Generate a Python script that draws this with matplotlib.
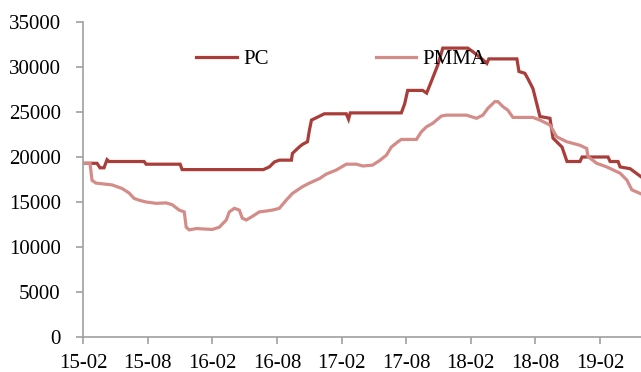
import matplotlib.pyplot as plt

plt.rcParams['font.family'] = ['Liberation Serif', 'DejaVu Serif']

# x = months since 2015-02
tick_labels = ['15-02', '15-08', '16-02', '16-08', '17-02', '17-08', '18-02', '18-08', '19-02']
tick_pos = [0, 6, 12, 18, 24, 30, 36, 42, 48]

pc_x = [0.0, 1.3, 1.58, 1.95, 2.23, 2.42, 5.67, 5.86, 9.02, 9.2, 16.74, 17.3, 17.77,
        18.23, 19.35, 19.44, 20.06, 20.37, 20.84, 21.02, 21.21, 21.81, 22.4, 24.44,
        24.65, 24.81, 29.55, 29.86, 30.14, 31.53, 31.9, 32.37, 32.93, 33.4, 35.72,
        36.19, 37.12, 37.49, 37.67, 40.28, 40.47, 41.02, 41.3, 41.77, 42.42, 43.35,
        43.63, 44.47, 44.93, 46.14, 46.33, 48.74, 48.93, 49.67, 49.86, 50.79, 51.81]
pc_y = [19300, 19300, 18800, 18800, 19700, 19500, 19500, 19200, 19200, 18600, 18600,
        18900, 19450, 19650, 19650, 20400, 21100, 21400, 21700, 23000, 24100, 24450,
        24800, 24800, 24200, 24900, 24900, 25900, 27400, 27400, 27100, 28500, 30200,
        32100, 32100, 31700, 30800, 30400, 30900, 30900, 29500, 29300, 28700, 27600,
        24500, 24300, 22100, 21100, 19500, 19500, 20000, 20000, 19500, 19500, 18900,
        18700, 17800]

pmma_x = [0.0, 0.65, 0.84, 1.21, 2.7, 3.63, 4.28, 4.74, 5.21, 5.86, 6.79, 7.72, 8.28,
          8.93, 9.4, 9.58, 9.86, 10.51, 12.0, 12.65, 13.3, 13.58, 14.05, 14.51, 14.79,
          15.16, 15.72, 16.37, 17.02, 17.58, 18.23, 18.86, 19.44, 20.37, 21.02, 21.95,
          22.58, 23.51, 24.44, 25.37, 25.98, 26.88, 27.53, 28.16, 28.62, 29.24, 29.55,
          30.95, 31.41, 31.88, 32.47, 33.27, 33.74, 35.6, 36.53, 37.12, 37.58, 38.23,
          38.51, 38.98, 39.44, 39.91, 41.77, 42.42, 43.35, 43.97, 44.9, 46.14, 46.76,
          46.88, 47.69, 48.62, 49.86, 50.48, 50.95, 51.81]
pmma_y = [19300, 19300, 17400, 17100, 16900, 16500, 16000, 15400, 15200, 15000, 14850,
          14900, 14700, 14100, 13900, 12200, 11900, 12050, 11950, 12200, 13000, 13900,
          14300, 14100, 13200, 13000, 13400, 13900, 14000, 14100, 14300, 15200, 15950,
          16700, 17100, 17600, 18100, 18550, 19200, 19200, 19000, 19100, 19600, 20200,
          21100, 21700, 21950, 21950, 22800, 23350, 23750, 24550, 24650, 24650, 24300,
          24650, 25400, 26150, 26150, 25600, 25200, 24400, 24400, 24100, 23550, 22250,
          21700, 21300, 20950, 20050, 19300, 18900, 18200, 17450, 16350, 15900]

fig = plt.figure(figsize=(6.41, 3.72), dpi=100)
ax = fig.add_axes([83 / 641, 35 / 372, 1 - 83 / 641, 315 / 372])

ax.plot(pc_x, pc_y, color='#a83d39', lw=2.3, label='PC', solid_joinstyle='miter')
ax.plot(pmma_x, pmma_y, color='#d48c89', lw=2.3, label='PMMA', solid_joinstyle='miter')

ax.set_xlim(0, 51.8)
ax.set_ylim(0, 35000)
ax.set_yticks(range(0, 35001, 5000))
ax.set_xticks(tick_pos)
ax.set_xticklabels(tick_labels)

for s in ['top', 'right']:
    ax.spines[s].set_visible(False)
for s in ['left', 'bottom']:
    ax.spines[s].set_color('#a0a0a0')
    ax.spines[s].set_linewidth(1.2)
ax.tick_params(colors='#a0a0a0', labelcolor='black', labelsize=15, length=5, width=1.2,
               direction='out')
ax.tick_params(axis='y', pad=11)
ax.tick_params(axis='x', pad=7.5)

ax.legend(ncol=2, frameon=False, loc='center left', fontsize=15,
          bbox_to_anchor=(196 / 641, 1 - 59 / 372), bbox_transform=fig.transFigure,
          borderpad=0, borderaxespad=0, handlelength=1.95, handletextpad=0.3,
          columnspacing=5.15)

fig.savefig('out.png', dpi=100)
